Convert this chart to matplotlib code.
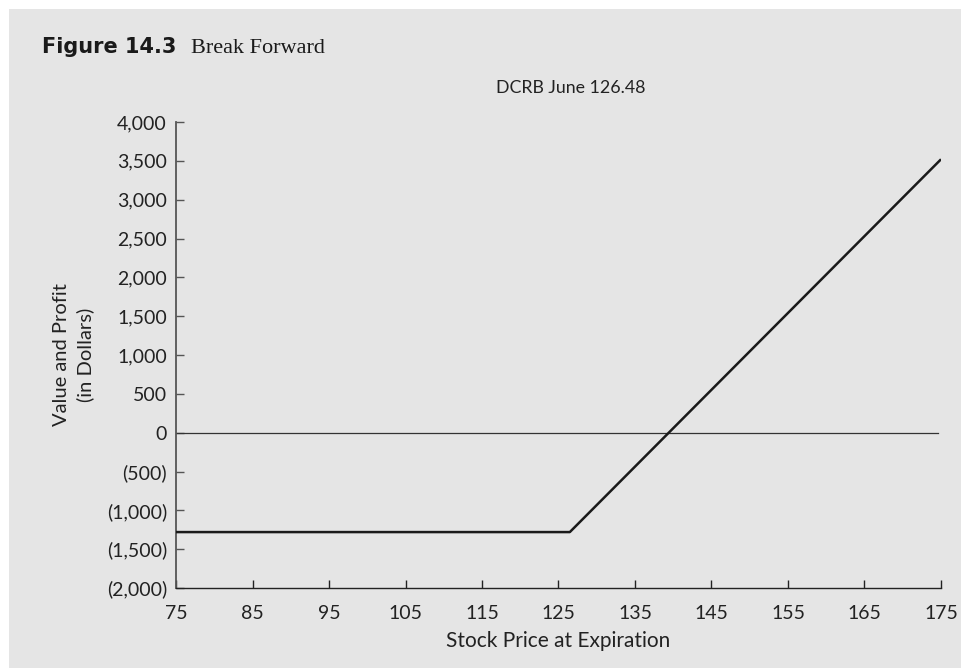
import matplotlib
matplotlib.use("Agg")
import matplotlib.pyplot as plt
from matplotlib.patches import Rectangle
from matplotlib.ticker import FuncFormatter

# Data
stock_price = [75, 126.48, 175]
value_profit = [-1280, -1280, 3520]
x_ticks = [75, 85, 95, 105, 115, 125, 135, 145, 155, 165, 175]
y_ticks = [-2000, -1500, -1000, -500, 0, 500, 1000, 1500, 2000, 2500, 3000, 3500, 4000]

W, H = 962, 668
fig = plt.figure(figsize=(W / 100, H / 100), dpi=100)
fig.patch.set_facecolor("white")
bg = Rectangle((9 / W, 0), 1.0, 1 - 9 / H, transform=fig.transFigure,
               facecolor="#e5e5e5", edgecolor="none", zorder=-10)
fig.add_artist(bg)

FONT = "Lato"
TXT = "#222222"
ax = fig.add_axes([176 / W, 1 - 588 / H, (941 - 176) / W, (588 - 122) / H])
ax.set_zorder(5)
ax.set_facecolor("none")

ax.plot(stock_price, value_profit, color="#1a1a1a", lw=1.8, solid_capstyle="butt", zorder=3)
ax.plot([x_ticks[0], x_ticks[-1] - 0.4], [0, 0], color="#333333", lw=0.9, zorder=2)

ax.set_xlim(75, 175)
ax.set_ylim(-2000, 4000)
ax.set_xticks(x_ticks)
ax.set_yticks(y_ticks)


def yfmt(v, pos):
    if v < 0:
        return "({:,.0f})".format(-v)
    return "{:,.0f}".format(v)


ax.yaxis.set_major_formatter(FuncFormatter(yfmt))
ax.xaxis.set_major_formatter(FuncFormatter(lambda v, p: "{:.0f}".format(v)))

for s in ("top", "right"):
    ax.spines[s].set_visible(False)
ax.spines["left"].set_color("#555555")
ax.spines["left"].set_linewidth(1.3)
ax.spines["bottom"].set_color("#222222")
ax.spines["bottom"].set_linewidth(1.0)

ax.tick_params(axis="y", direction="in", length=5.5, width=1.0, color="#555555",
               pad=6.5, labelsize=14, labelcolor=TXT)
ax.tick_params(axis="x", direction="in", length=6, width=1.0, color="#222222",
               pad=12.5, labelsize=14, labelcolor=TXT)
for lab in ax.get_xticklabels() + ax.get_yticklabels():
    lab.set_fontfamily(FONT)

fig.text(558.5 / W, 1 - 647 / H, "Stock Price at Expiration", ha="center", va="baseline",
         fontsize=15, family=FONT, color=TXT)
fig.text(73.5 / W, 1 - 355 / H, "Value and Profit\n(in Dollars)", ha="center", va="center",
         rotation=90, multialignment="center", fontsize=14.5, family=FONT, color=TXT,
         linespacing=1.45)

fig.text(571 / W, 1 - 88 / H, "DCRB June 126.48", ha="center", va="center",
         fontsize=12.8, family=FONT, color=TXT)

fig.text(42 / W, 1 - 53 / H, "Figure 14.3", ha="left", va="baseline",
         fontsize=15, family="DejaVu Sans", weight="bold", color="#1a1a1a")
fig.text(191 / W, 1 - 53 / H, "Break Forward", ha="left", va="baseline",
         fontsize=16, family="Liberation Serif", color="#1a1a1a")

fig.savefig("out.png", dpi=100, facecolor=fig.get_facecolor())
